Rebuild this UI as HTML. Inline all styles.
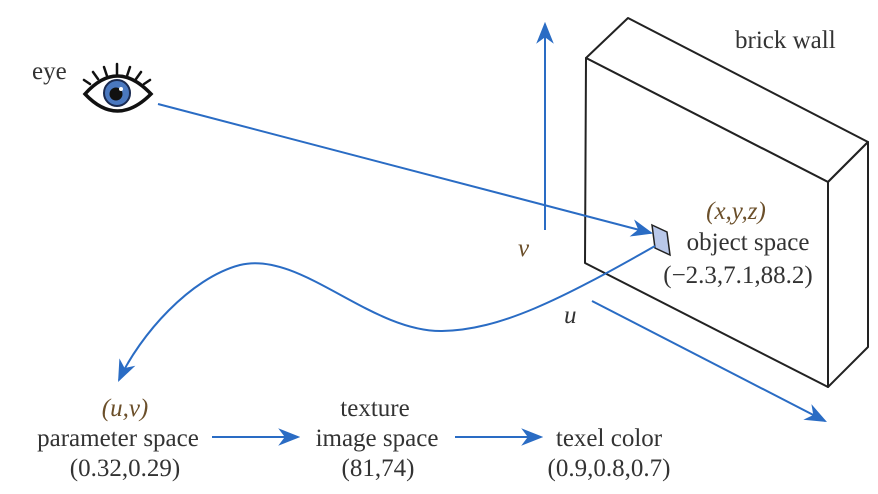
<!DOCTYPE html>
<html><head><meta charset="utf-8"><style>
html,body{margin:0;padding:0;background:#fff;}
svg{display:block;}
text{font-family:"Liberation Serif",serif;font-size:25px;fill:#333;}
</style></head><body>
<svg width="878" height="494" viewBox="0 0 878 494">
<defs>
<marker id="ah2" viewBox="0 0 10 10" refX="9" refY="5" markerWidth="22" markerHeight="22" markerUnits="userSpaceOnUse" orient="auto">
<path d="M0,1 L10,5 L0,9 L3,5 z" fill="#2a6cc4"/></marker>
</defs>
<g fill="#fff" stroke="#222" stroke-width="2" stroke-linejoin="round">
<polygon points="586,58 628,18 868,142 828,182"/>
<polygon points="828,182 868,142 868,347 828,387"/>
<polygon points="586,58 828,182 828,387 585,263"/>
</g>
<text x="735" y="48">brick wall</text>
<line x1="545" y1="230" x2="545" y2="24" stroke="#2a6cc4" stroke-width="2" marker-end="url(#ah2)"/>
<text x="518" y="256" font-style="italic" style="fill:#6b4f2a">v</text>
<line x1="592" y1="301" x2="825" y2="421" stroke="#2a6cc4" stroke-width="2" marker-end="url(#ah2)"/>
<text x="564" y="323" font-style="italic">u</text>
<g>
<g stroke="#111" stroke-width="2.5" stroke-linecap="round">
<line x1="117" y1="64" x2="117" y2="74"/><line x1="104" y1="67" x2="107" y2="76"/><line x1="130" y1="67" x2="127" y2="76"/>
<line x1="93" y1="72" x2="98" y2="79"/><line x1="141" y1="72" x2="136" y2="79"/><line x1="84" y1="80" x2="90" y2="84"/><line x1="150" y1="80" x2="144" y2="84"/>
</g>
<path d="M85,94 Q117,58 151,94 Q117,128 85,94 z" fill="#fff" stroke="#111" stroke-width="3.5"/>
<circle cx="117" cy="93" r="13" fill="#4a78c0" stroke="#1a2a50" stroke-width="2"/>
<circle cx="116" cy="94" r="6.5" fill="#111"/>
<circle cx="121" cy="89" r="2" fill="#fff"/>
</g>
<text x="32" y="79">eye</text>
<line x1="158" y1="104" x2="651" y2="233" stroke="#2a6cc4" stroke-width="2" marker-end="url(#ah2)"/>
<polygon points="652,225 667,232 670,255 655,248" fill="#b9c8ea" stroke="#222" stroke-width="1.5"/>
<path d="M655,246 C560,300 500,330 442,331 C370,332 300,250 240,265 C190,278 140,335 119,380" fill="none" stroke="#2a6cc4" stroke-width="2" marker-end="url(#ah2)"/>
<g text-anchor="middle">
<text x="736" y="219" font-style="italic" style="fill:#6b4f2a">(x,y,z)</text>
<text x="748" y="250">object space</text>
<text x="738" y="283">(−2.3,7.1,88.2)</text>
</g>
<g text-anchor="middle">
<text x="125" y="416" font-style="italic" style="fill:#6b4f2a">(u,v)</text>
<text x="118" y="446">parameter space</text>
<text x="125" y="476">(0.32,0.29)</text>
</g>
<g text-anchor="middle">
<text x="375" y="416">texture</text>
<text x="377" y="446">image space</text>
<text x="378" y="476">(81,74)</text>
</g>
<g text-anchor="middle">
<text x="609" y="446">texel color</text>
<text x="609" y="476">(0.9,0.8,0.7)</text>
</g>
<line x1="212" y1="437" x2="298" y2="437" stroke="#2a6cc4" stroke-width="2" marker-end="url(#ah2)"/>
<line x1="455" y1="437" x2="541" y2="437" stroke="#2a6cc4" stroke-width="2" marker-end="url(#ah2)"/>
</svg>
</body></html>
